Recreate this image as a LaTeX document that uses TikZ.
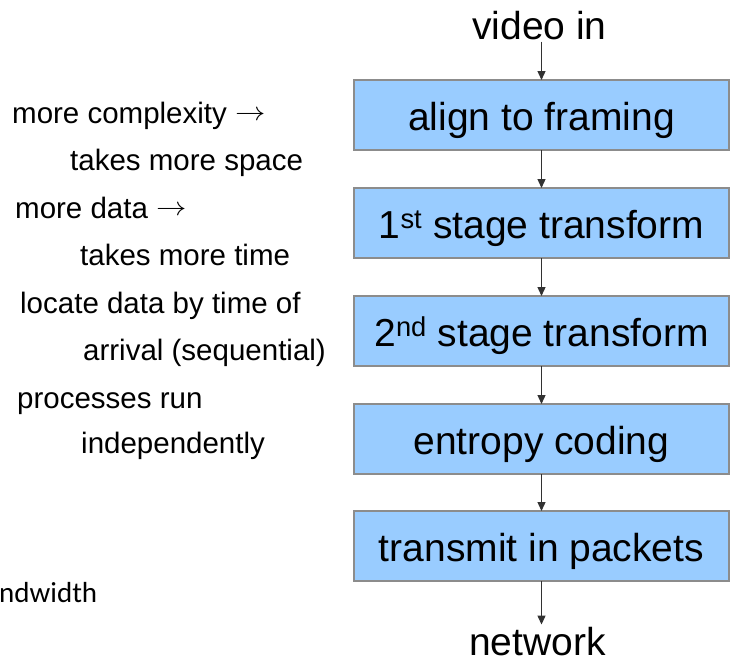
\documentclass[tikz,border=0pt]{standalone}
\usepackage{fontspec}
\setmainfont{Liberation Sans}
\newfontfamily\notefont{Carlito}
\usetikzlibrary{arrows.meta}
\definecolor{boxfill}{RGB}{153,204,255}
\definecolor{boxline}{RGB}{140,140,140}
\definecolor{flowline}{RGB}{50,50,50}
\tikzset{
  stagebox/.style={draw=boxline, line width=1.2pt, fill=boxfill,
    minimum width=375pt, minimum height=70pt, inner sep=0pt, outer sep=0pt,
    text height=36pt, text depth=6pt,
    font=\fontsize{39}{46}\selectfont},
  endlabel/.style={font=\fontsize{39}{46}\selectfont, inner sep=2pt, anchor=base},
  sidenote/.style={font=\fontsize{29.5}{35}\selectfont, inner sep=0pt, anchor=base west},
  flow/.style={draw=flowline, line width=1.3pt, -{Triangle[length=9pt,width=8pt]}}
}
% a thin, slightly widened arrow for the side notes
\newcommand\sidearrow{\raisebox{0.08em}{\scalebox{1.22}[1.05]{$\rightarrow$}}}
\begin{document}
\begin{tikzpicture}[x=1pt,y=-1pt]
\useasboundingbox (0,0) rectangle (734,662);

% pipeline stages
\node[endlabel] (vin) at (539.5,39) {video in};
\node[stagebox] (b1) at (541.5,115) {align to framing};
\node[stagebox] (b2) at (541.5,223) {1\textsuperscript{st} stage transform};
\node[stagebox] (b3) at (541.5,331) {2\textsuperscript{nd} stage transform};
\node[stagebox] (b4) at (541.5,439) {entropy coding};
\node[stagebox] (b5) at (541.5,546) {transmit in packets};
\node[endlabel] (net) at (537.5,655) {network};

\coordinate (top) at (b1.north |- vin.south);
\coordinate (bot) at (b5.south |- net.north);
\draw[flow] (top) -- (b1.north);
\draw[flow] (b1.south) -- (b2.north);
\draw[flow] (b2.south) -- (b3.north);
\draw[flow] (b3.south) -- (b4.north);
\draw[flow] (b4.south) -- (b5.north);
\draw[flow] (b5.south) -- (bot);

% side notes
\node[sidenote] (n1) at (12,123) {more complexity \sidearrow};
\node[sidenote] (n2) at (70,170) {takes more space};
\node[sidenote] (n3) at (15,218) {more data \sidearrow};
\node[sidenote] (n4) at (80,265) {takes more time};
\node[sidenote] (n5) at (20,313) {locate data by time of};
\node[sidenote] (n6) at (83,360) {arrival (sequential)};
\node[sidenote] (n7) at (17,408) {processes run};
\node[sidenote] (n8) at (81,453) {independently};
\node[sidenote, font=\notefont\fontsize{29}{35}\selectfont] (n9) at (-1,602) {ndwidth};
\end{tikzpicture}
\end{document}
